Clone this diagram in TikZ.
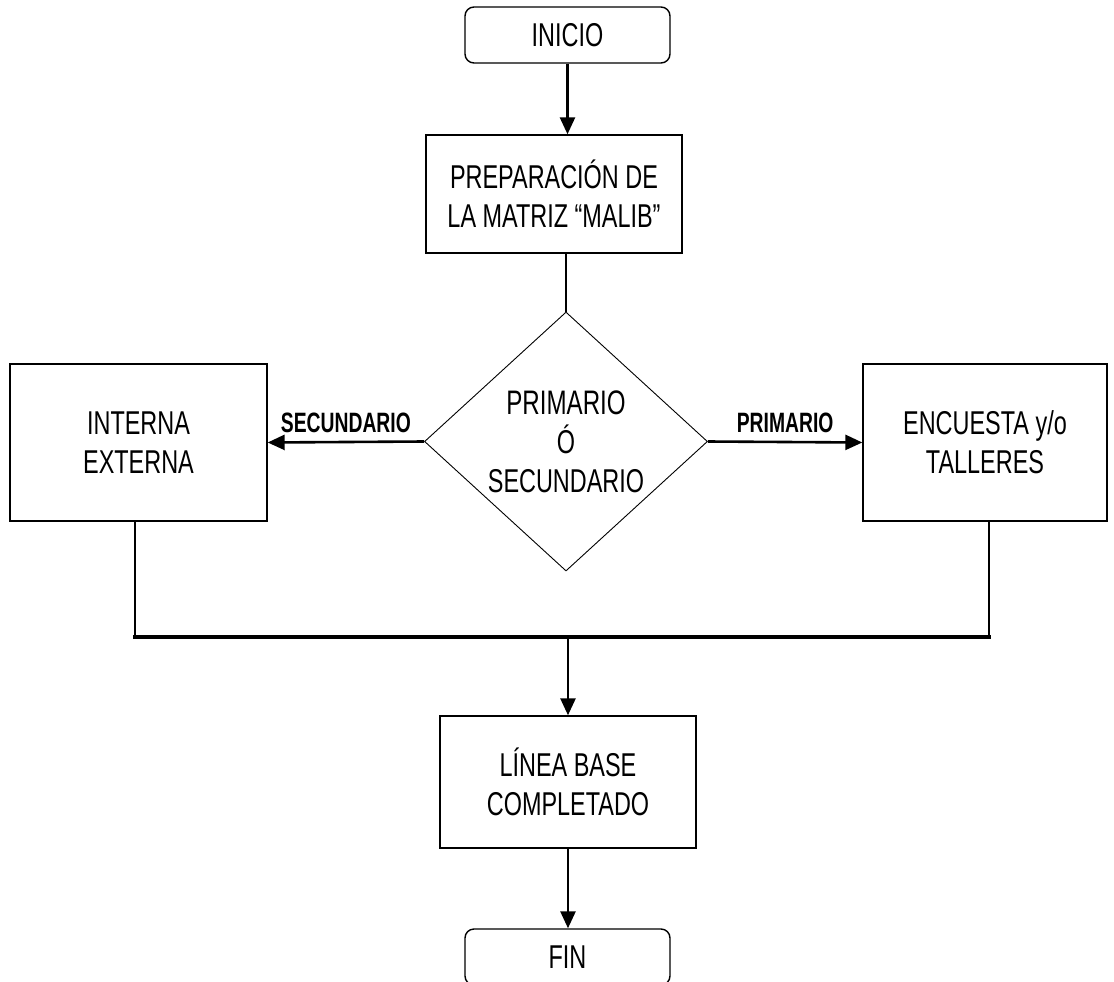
\documentclass[tikz,border=0pt]{standalone}
\usepackage{fontspec}
\setmainfont{Liberation Sans}
\newfontfamily\nrw[FakeStretch=0.71]{Liberation Sans}
\newfontfamily\lblf[FakeStretch=0.69]{Liberation Sans}
\usetikzlibrary{arrows.meta,shapes.geometric}
\begin{document}
\begin{tikzpicture}[x=1pt,y=-1pt,
  txt/.style={font=\nrw\fontsize{33}{39}\selectfont, align=center, text=black},
  boxn/.style={txt, draw=black, line width=1.4pt, rectangle, inner sep=0pt},
  term/.style={boxn, rounded corners=9pt},
  decis/.style={txt, draw=black, line width=0.9pt, diamond, inner sep=0pt},
  conn/.style={draw=black, line width=2.6pt},
  arr/.style={conn, -{Triangle[length=17pt,width=15pt]}},
  lbl/.style={font=\lblf\bfseries\fontsize{28}{30}\selectfont, anchor=base, yshift=10pt, inner sep=0pt}
]
\useasboundingbox (0,0) rectangle (1114,982);
\node[term, minimum width=205pt, minimum height=56pt] (inicio) at (567.5,35) {INICIO};
\node[boxn, minimum width=256pt, minimum height=118pt] (prep) at (554,194) {PREPARACIÓN DE\\LA MATRIZ “MALIB”};
\node[decis, minimum width=283pt, minimum height=259pt] (dia) at (566,441.5) {\fontsize{34}{40}\selectfont PRIMARIO\\Ó\\SECUNDARIO};
\node[boxn, minimum width=257pt, minimum height=157pt] (interna) at (138.5,442.5) {INTERNA\\EXTERNA};
\node[boxn, minimum width=244pt, minimum height=157pt] (encuesta) at (985,442.5) {ENCUESTA y/o\\TALLERES};
\node[boxn, minimum width=256pt, minimum height=132pt] (linea) at (568,782) {LÍNEA BASE\\COMPLETADO};
\node[term, minimum width=205pt, minimum height=56pt] (fin) at (567.5,957) {FIN};

\draw[arr] (inicio.south) -- (inicio.south |- prep.north);
\draw[conn] (dia.north |- prep.south) -- (dia.north);
\draw[arr] (dia.west) -- (interna.east) node[lbl, midway] {SECUNDARIO};
\draw[arr] (dia.east) -- (encuesta.west) node[lbl, midway] {PRIMARIO};

\coordinate (jl) at (135,637);
\coordinate (jr) at (989,637);
\coordinate (j) at (568,637);
\draw[conn, line width=2.2pt] (interna.south -| jl) -- (jl);
\draw[conn, line width=2.2pt] (encuesta.south -| jr) -- (jr);
\draw[conn, line width=3.4pt, line cap=rect] (jl) -- (jr);
\draw[arr] (j) -- (j |- linea.north);
\draw[arr] (linea.south) -- (linea.south |- fin.north);
\end{tikzpicture}
\end{document}
